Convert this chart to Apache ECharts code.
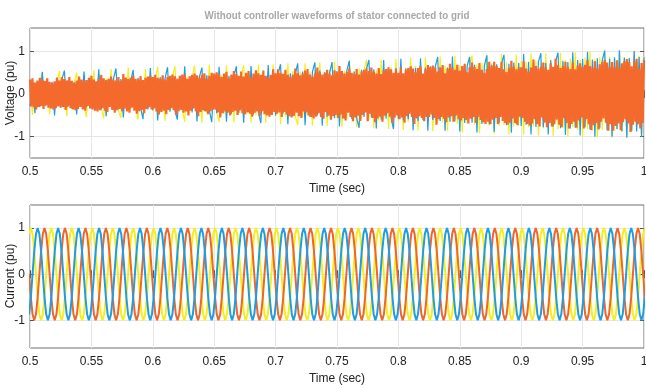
<!DOCTYPE html>
<html>
<head>
<meta charset="utf-8">
<script src="https://cdn.jsdelivr.net/npm/echarts@6/dist/echarts.min.js"></script>
<style>html,body{margin:0;padding:0;background:#fff}#c{width:646px;height:389px}</style>
</head>
<body>
<div id="c"></div>
<script>
// ---- data ----
const chartTitle = 'Without controller waveforms of stator connected to grid';
const voltageLabel = 'Voltage (pu)';
const currentLabel = 'Current (pu)';
const timeLabel = 'Time (sec)';
const xTicks = [0.5, 0.55, 0.6, 0.65, 0.7, 0.75, 0.8, 0.85, 0.9, 0.95, 1];
const yTicks = [-1, 0, 1];
const timeStart = 0.5;
const orangeStep = 0.001;    // s between orange voltage samples
const voltStep = 0.002;      // s between blue / yellow voltage samples
const currStep = 1 / 720;    // s between current samples (60 Hz, 12 per cycle)

const voltageOrange = [
.34,-.29,.37,-.31,.27,-.36,.32,-.30,.38,-.28,.33,-.35,.31,-.27,.37,-.32,.29,-.34,.26,-.36,.30,-.33,.39,-.29,.32,
-.32,.40,-.30,.35,-.37,.32,-.29,.40,-.33,.31,-.36,.27,-.38,.32,-.35,.41,-.30,.34,-.36,.31,-.39,.33,-.28,.38,-.34,
.43,-.36,.34,-.39,.30,-.41,.35,-.38,.45,-.33,.37,-.39,.33,-.42,.36,-.30,.41,-.37,.34,-.44,.32,-.38,.40,-.35,.31,
-.40,.47,-.34,.39,-.41,.35,-.44,.38,-.32,.43,-.39,.36,-.46,.34,-.40,.42,-.37,.33,-.45,.38,-.35,.41,-.31,.43,-.36,
.40,-.34,.45,-.41,.38,-.48,.35,-.42,.44,-.39,.34,-.47,.40,-.37,.43,-.33,.46,-.38,.42,-.49,.36,-.40,.43,-.37,.46,
-.44,.46,-.41,.36,-.50,.42,-.39,.45,-.34,.48,-.40,.44,-.52,.38,-.42,.45,-.38,.49,-.41,.35,-.47,.43,-.40,.50,-.37,
.48,-.36,.51,-.43,.47,-.55,.40,-.45,.48,-.41,.52,-.44,.37,-.50,.46,-.42,.54,-.39,.47,-.49,.43,-.38,.53,-.45,.41,
-.47,.50,-.43,.54,-.46,.39,-.53,.48,-.44,.56,-.41,.49,-.52,.45,-.40,.55,-.47,.43,-.50,.38,-.53,.45,-.49,.58,-.42,
.49,-.46,.58,-.43,.50,-.54,.47,-.42,.57,-.48,.45,-.52,.40,-.55,.46,-.51,.60,-.44,.49,-.52,.44,-.56,.48,-.41,.55,
-.43,.59,-.50,.46,-.54,.41,-.57,.48,-.53,.62,-.45,.51,-.54,.46,-.58,.50,-.42,.57,-.51,.48,-.60,.44,-.52,.56,-.49,
.51,-.56,.66,-.48,.54,-.57,.48,-.62,.52,-.44,.60,-.54,.50,-.64,.47,-.55,.59,-.51,.46,-.63,.53,-.49,.57,-.43,.60,
-.64,.54,-.46,.62,-.56,.52,-.66,.48,-.57,.61,-.53,.47,-.65,.55,-.51,.59,-.45,.63,-.53,.58,-.68,.50,-.55,.59,-.50,
.50,-.59,.63,-.55,.49,-.67,.57,-.52,.61,-.46,.65,-.54,.60,-.70,.51,-.57,.61,-.52,.66,-.56,.48,-.64,.58,-.54,.68,
-.54,.63,-.48,.67,-.56,.62,-.72,.53,-.59,.63,-.54,.68,-.58,.49,-.66,.60,-.55,.71,-.52,.61,-.65,.57,-.50,.69,-.59,
.55,-.62,.66,-.56,.71,-.61,.51,-.69,.63,-.58,.74,-.54,.64,-.68,.59,-.53,.73,-.61,.57,-.66,.50,-.70,.59,-.65,.76,
-.71,.65,-.60,.76,-.56,.66,-.70,.61,-.54,.75,-.63,.58,-.68,.52,-.72,.61,-.67,.78,-.57,.64,-.68,.58,-.73,.63,-.53,
.63,-.56,.77,-.65,.60,-.70,.53,-.74,.62,-.69,.81,-.59,.66,-.70,.60,-.76,.64,-.55,.74,-.67,.62,-.78,.57,-.68,.72,
-.76,.64,-.71,.83,-.60,.68,-.72,.61,-.78,.66,-.56,.76,-.68,.63,-.81,.59,-.70,.74,-.65,.58,-.79,.67,-.62,.72,-.55,
.64,-.81,.69,-.59,.79,-.71,.66,-.84,.62,-.73,.77,-.68,.60,-.83,.70,-.65,.75,-.57,.80,-.67,.74,-.86,.63,-.71,.75,
-.86,.63,-.75,.79,-.69,.62,-.85,.72,-.66,.77,-.59,.82,-.69,.75,-.89,.65,-.72,.77,-.65,.83,-.71,.60,-.81,.73,-.68,
.80];
const voltageBlue = [
-.28,.30,-.45,.25,-.31,.52,-.27,.33,-.24,.29,-.50,.31,-.26,.35,.55,-.30,.28,-.33,.27,-.48,.30,-.25,.53,-.31,.29,
-.34,.31,-.29,.58,-.36,.30,-.52,.33,-.28,.36,.60,-.31,.35,-.55,.32,-.37,.29,.57,-.33,.38,-.30,-.59,.34,-.36,.61,
-.38,.35,-.62,.40,-.33,.37,.63,-.41,.36,-.39,-.60,.42,-.35,.65,-.40,.38,-.43,.36,-.64,.41,.62,-.39,.44,-.37,-.66,
.42,-.45,.64,-.40,.44,-.65,.43,-.46,.41,.65,-.44,.47,-.67,.45,-.42,.66,-.48,.46,-.43,-.68,.49,-.45,.68,-.47,.44,
-.50,.48,.70,-.46,.51,-.71,.49,-.52,.47,.72,-.50,.53,-.73,.48,-.54,.52,.74,-.49,.55,-.74,.51,-.53,.50,.75,-.56,
.54,-.76,.52,-.57,.55,.78,-.58,.53,-.56,-.79,.57,-.54,.59,.80,-.55,.58,-.81,.56,-.60,.80,-.57,.59,-.55,-.82,.61,
-.58,.83,-.62,.60,-.59,.63,-.85,.61,-.64,.84,-.60,.62,-.86,.65,-.61,.64,.87,-.63,.66,-.86,.62,-.65,.88,-.64,.67,
-.88,.65,-.68,.66,.87,-.67,.69,-.90,.68,-.70,.66,.91,-.71,.69,-.89,.70,-.68,.72,.92,-.73,.71,-.91,.74,-.70,.73,
-.75,.94,-.72,.76,-.95,.74,-.77,.75,.96,-.78,.73,-.95,.79,-.76,.77,.97,-.80,.78,-.96,.75,-.81,.98,-.79,.80,-.97,
.82,-.78,.99,-.83,.81,-1.0,.84,-.80,.79,1.02,-.85,.83,-1.0,.86,-.82,1.03,-.87,.85,-1.02,.84,-.86,1.01,-.88,.87,-1.0,
.86];
const voltageYellow = [
.30,-.49,.27,-.32,.26,.51,-.29,.34,-.47,.25,-.33,.30,.54,-.28,.31,-.52,.29,-.35,.27,.50,-.30,.32,-.26,-.54,.33,
-.31,.56,-.35,.29,-.33,-.57,.37,-.30,.59,-.34,.32,-.38,-.56,.35,-.29,.62,-.36,.33,-.31,-.60,.38,-.35,.58,-.32,.37,
-.40,.36,.64,-.38,.41,-.63,.35,-.42,.39,.66,-.37,.43,-.36,-.65,.40,-.44,.38,.67,-.41,.42,-.68,.39,-.45,.69,-.40,
.46,-.43,-.66,.44,-.47,.67,-.42,.45,-.66,.48,-.46,.43,.68,-.49,.47,-.67,.44,-.50,.69,-.45,.48,-.68,.51,-.47,.70,
-.52,.49,-.71,.50,-.53,.72,-.48,.54,-.51,-.73,.52,-.55,.72,-.50,.53,-.74,.56,-.52,.74,-.54,.51,-.75,.57,-.53,.76,
-.56,.58,-.77,.54,-.59,.79,-.57,.55,-.78,.60,-.58,.56,.80,-.61,.59,-.80,.57,-.62,.81,-.60,.58,-.82,.63,-.59,.82,
-.64,.61,-.84,.62,-.65,.85,-.63,.66,-.86,.64,-.62,.86,-.67,.65,-.87,.63,-.68,.88,-.66,.67,-.87,.69,-.65,.89,-.70,
.68,-.90,.71,-.69,.67,.91,-.72,.70,-.92,.73,-.71,.91,-.74,.72,-.93,.69,-.75,.94,-.73,.74,-.94,.71,-.76,.93,-.74,
.77,-.95,.75,-.78,.96,-.76,.79,-.97,.74,-.80,.96,-.77,.81,-.98,.78,-.82,.97,-.79,.80,-.99,.83,-.78,.98,-.84,.81,
-.99,.85,-.82,1.0,-.86,.83,-1.01,.87,-.84,1.0,-.85,.88,-1.02,.86,-.83,1.01,-.89,.87,-1.03,.85,-.88,1.02,-.86,.90,-1.0,
.88];

const currentBlue = [
-.87,-.5,0,.5,.87,1,.87,.5,0,-.5,-.87,-1,
-.87,-.5,0,.5,.87,1,.87,.5,0,-.5,-.87,-1,
-.87,-.5,0,.5,.87,1,.87,.5,0,-.5,-.87,-1,
-.87,-.5,0,.5,.87,1,.87,.5,0,-.5,-.87,-1,
-.87,-.5,0,.5,.87,1,.87,.5,0,-.5,-.87,-1,
-.87,-.5,0,.5,.87,1,.87,.5,0,-.5,-.87,-1,
-.87,-.5,0,.5,.87,1,.87,.5,0,-.5,-.87,-1,
-.87,-.5,0,.5,.87,1,.87,.5,0,-.5,-.87,-1,
-.87,-.5,0,.5,.87,1,.87,.5,0,-.5,-.87,-1,
-.87,-.5,0,.5,.87,1,.87,.5,0,-.5,-.87,-1,
-.87,-.5,0,.5,.87,1,.87,.5,0,-.5,-.87,-1,
-.87,-.5,0,.5,.87,1,.87,.5,0,-.5,-.87,-1,
-.87,-.5,0,.5,.87,1,.87,.5,0,-.5,-.87,-1,
-.87,-.5,0,.5,.87,1,.87,.5,0,-.5,-.87,-1,
-.87,-.5,0,.5,.87,1,.87,.5,0,-.5,-.87,-1,
-.87,-.5,0,.5,.87,1,.87,.5,0,-.5,-.87,-1,
-.87,-.5,0,.5,.87,1,.87,.5,0,-.5,-.87,-1,
-.87,-.5,0,.5,.87,1,.87,.5,0,-.5,-.87,-1,
-.87,-.5,0,.5,.87,1,.87,.5,0,-.5,-.87,-1,
-.87,-.5,0,.5,.87,1,.87,.5,0,-.5,-.87,-1,
-.87,-.5,0,.5,.87,1,.87,.5,0,-.5,-.87,-1,
-.87,-.5,0,.5,.87,1,.87,.5,0,-.5,-.87,-1,
-.87,-.5,0,.5,.87,1,.87,.5,0,-.5,-.87,-1,
-.87,-.5,0,.5,.87,1,.87,.5,0,-.5,-.87,-1,
-.87,-.5,0,.5,.87,1,.87,.5,0,-.5,-.87,-1,
-.87,-.5,0,.5,.87,1,.87,.5,0,-.5,-.87,-1,
-.87,-.5,0,.5,.87,1,.87,.5,0,-.5,-.87,-1,
-.87,-.5,0,.5,.87,1,.87,.5,0,-.5,-.87,-1,
-.87,-.5,0,.5,.87,1,.87,.5,0,-.5,-.87,-1,
-.87,-.5,0,.5,.87,1,.87,.5,0,-.5,-.87,-1,
-.87,-.5];
const currentOrange = [
0,-.5,-.87,-1,-.87,-.5,0,.5,.87,1,.87,.5,
0,-.5,-.87,-1,-.87,-.5,0,.5,.87,1,.87,.5,
0,-.5,-.87,-1,-.87,-.5,0,.5,.87,1,.87,.5,
0,-.5,-.87,-1,-.87,-.5,0,.5,.87,1,.87,.5,
0,-.5,-.87,-1,-.87,-.5,0,.5,.87,1,.87,.5,
0,-.5,-.87,-1,-.87,-.5,0,.5,.87,1,.87,.5,
0,-.5,-.87,-1,-.87,-.5,0,.5,.87,1,.87,.5,
0,-.5,-.87,-1,-.87,-.5,0,.5,.87,1,.87,.5,
0,-.5,-.87,-1,-.87,-.5,0,.5,.87,1,.87,.5,
0,-.5,-.87,-1,-.87,-.5,0,.5,.87,1,.87,.5,
0,-.5,-.87,-1,-.87,-.5,0,.5,.87,1,.87,.5,
0,-.5,-.87,-1,-.87,-.5,0,.5,.87,1,.87,.5,
0,-.5,-.87,-1,-.87,-.5,0,.5,.87,1,.87,.5,
0,-.5,-.87,-1,-.87,-.5,0,.5,.87,1,.87,.5,
0,-.5,-.87,-1,-.87,-.5,0,.5,.87,1,.87,.5,
0,-.5,-.87,-1,-.87,-.5,0,.5,.87,1,.87,.5,
0,-.5,-.87,-1,-.87,-.5,0,.5,.87,1,.87,.5,
0,-.5,-.87,-1,-.87,-.5,0,.5,.87,1,.87,.5,
0,-.5,-.87,-1,-.87,-.5,0,.5,.87,1,.87,.5,
0,-.5,-.87,-1,-.87,-.5,0,.5,.87,1,.87,.5,
0,-.5,-.87,-1,-.87,-.5,0,.5,.87,1,.87,.5,
0,-.5,-.87,-1,-.87,-.5,0,.5,.87,1,.87,.5,
0,-.5,-.87,-1,-.87,-.5,0,.5,.87,1,.87,.5,
0,-.5,-.87,-1,-.87,-.5,0,.5,.87,1,.87,.5,
0,-.5,-.87,-1,-.87,-.5,0,.5,.87,1,.87,.5,
0,-.5,-.87,-1,-.87,-.5,0,.5,.87,1,.87,.5,
0,-.5,-.87,-1,-.87,-.5,0,.5,.87,1,.87,.5,
0,-.5,-.87,-1,-.87,-.5,0,.5,.87,1,.87,.5,
0,-.5,-.87,-1,-.87,-.5,0,.5,.87,1,.87,.5,
0,-.5,-.87,-1,-.87,-.5,0,.5,.87,1,.87,.5,
0,-.5];
const currentYellow = [
.87,1,.87,.5,0,-.5,-.87,-1,-.87,-.5,0,.5,
.87,1,.87,.5,0,-.5,-.87,-1,-.87,-.5,0,.5,
.87,1,.87,.5,0,-.5,-.87,-1,-.87,-.5,0,.5,
.87,1,.87,.5,0,-.5,-.87,-1,-.87,-.5,0,.5,
.87,1,.87,.5,0,-.5,-.87,-1,-.87,-.5,0,.5,
.87,1,.87,.5,0,-.5,-.87,-1,-.87,-.5,0,.5,
.87,1,.87,.5,0,-.5,-.87,-1,-.87,-.5,0,.5,
.87,1,.87,.5,0,-.5,-.87,-1,-.87,-.5,0,.5,
.87,1,.87,.5,0,-.5,-.87,-1,-.87,-.5,0,.5,
.87,1,.87,.5,0,-.5,-.87,-1,-.87,-.5,0,.5,
.87,1,.87,.5,0,-.5,-.87,-1,-.87,-.5,0,.5,
.87,1,.87,.5,0,-.5,-.87,-1,-.87,-.5,0,.5,
.87,1,.87,.5,0,-.5,-.87,-1,-.87,-.5,0,.5,
.87,1,.87,.5,0,-.5,-.87,-1,-.87,-.5,0,.5,
.87,1,.87,.5,0,-.5,-.87,-1,-.87,-.5,0,.5,
.87,1,.87,.5,0,-.5,-.87,-1,-.87,-.5,0,.5,
.87,1,.87,.5,0,-.5,-.87,-1,-.87,-.5,0,.5,
.87,1,.87,.5,0,-.5,-.87,-1,-.87,-.5,0,.5,
.87,1,.87,.5,0,-.5,-.87,-1,-.87,-.5,0,.5,
.87,1,.87,.5,0,-.5,-.87,-1,-.87,-.5,0,.5,
.87,1,.87,.5,0,-.5,-.87,-1,-.87,-.5,0,.5,
.87,1,.87,.5,0,-.5,-.87,-1,-.87,-.5,0,.5,
.87,1,.87,.5,0,-.5,-.87,-1,-.87,-.5,0,.5,
.87,1,.87,.5,0,-.5,-.87,-1,-.87,-.5,0,.5,
.87,1,.87,.5,0,-.5,-.87,-1,-.87,-.5,0,.5,
.87,1,.87,.5,0,-.5,-.87,-1,-.87,-.5,0,.5,
.87,1,.87,.5,0,-.5,-.87,-1,-.87,-.5,0,.5,
.87,1,.87,.5,0,-.5,-.87,-1,-.87,-.5,0,.5,
.87,1,.87,.5,0,-.5,-.87,-1,-.87,-.5,0,.5,
.87,1,.87,.5,0,-.5,-.87,-1,-.87,-.5,0,.5,
.87,1];

// ---- build ----
const FONT = "'Liberation Sans', Arial, sans-serif";
const C_BLUE = '#1f9de3', C_ORANGE = '#f0652a', C_YELLOW = '#f5ee1c';
const pairs = (arr, step, offset) => arr.map((v, i) => [timeStart + (i + offset) * step, v]);

function xAxisDef(gridIndex, top, withName) {
  return {
    type: 'value', gridIndex, position: top ? 'top' : 'bottom',
    min: 0.5, max: 1, interval: 0.05,
    axisLine: { show: false },
    axisTick: { show: true, inside: true, length: 4, lineStyle: { color: '#555' } },
    axisLabel: { show: !top, margin: 8, color: '#222', fontFamily: FONT, fontSize: 12 },
    splitLine: { show: !top, lineStyle: { color: '#e6e6e6', width: 1 } },
    name: withName ? timeLabel : '', nameLocation: 'middle', nameGap: 25,
    nameTextStyle: { color: '#222', fontFamily: FONT, fontSize: 12 }
  };
}
function yAxisDef(gridIndex, right, mn, mx) {
  return {
    type: 'value', gridIndex, position: right ? 'right' : 'left',
    min: mn, max: mx,
    axisLine: { show: false },
    axisTick: { show: true, inside: true, length: 4, lineStyle: { color: '#555' }, customValues: yTicks },
    axisLabel: { show: !right, margin: 5, color: '#222', fontFamily: FONT, fontSize: 12, customValues: yTicks },
    splitLine: { show: !right, lineStyle: { color: '#e6e6e6', width: 1 } }
  };
}
function line(name, data, xi, yi, color, w, z) {
  return { name, type: 'line', data, xAxisIndex: xi, yAxisIndex: yi, showSymbol: false, symbol: 'none',
    lineStyle: { color, width: w }, itemStyle: { color }, z, clip: true, animation: false, silent: true };
}
function vText(text, x, y) {
  return { type: 'text', x, y, rotation: Math.PI / 2, silent: true, z: 10,
    style: { text, fill: '#222', font: "12px 'Liberation Sans', Arial, sans-serif",
      textAlign: 'center', textVerticalAlign: 'middle' } };
}

const chart = echarts.init(document.getElementById('c'), null, { renderer: 'canvas' });
chart.setOption({
  animation: false,
  backgroundColor: '#fff',
  graphic: [
    { type: 'text', x: 337, y: 16, scaleX: 0.89, silent: true,
      style: { text: chartTitle, fill: '#a8a8a8', font: "bold 11px 'Liberation Sans', Arial, sans-serif",
        textAlign: 'center', textVerticalAlign: 'middle' } },
    vText(voltageLabel, 11, 93),
    vText(currentLabel, 11, 276)
  ],
  grid: [
    { left: 30, right: 2, top: 28, height: 130, outerBoundsMode: 'none', containLabel: false,
      show: true, borderColor: '#6e6e6e', borderWidth: 1, backgroundColor: '#fff' },
    { left: 30, right: 2, top: 205, height: 143, outerBoundsMode: 'none', containLabel: false,
      show: true, borderColor: '#6e6e6e', borderWidth: 1, backgroundColor: '#fff' }
  ],
  xAxis: [ xAxisDef(0, false, true), xAxisDef(0, true, false), xAxisDef(1, false, true), xAxisDef(1, true, false) ],
  yAxis: [ yAxisDef(0, false, -1.5, 1.55), yAxisDef(0, true, -1.5, 1.55),
           yAxisDef(1, false, -1.6, 1.5), yAxisDef(1, true, -1.6, 1.5) ],
  series: [
    line('Va', pairs(voltageYellow, voltStep, 0), 0, 0, C_YELLOW, 1.2, 2),
    line('Vb', pairs(voltageBlue, voltStep, 0), 0, 0, C_BLUE, 1.2, 3),
    line('Vc', pairs(voltageOrange, orangeStep, 0), 0, 0, '#f4692c', 2.2, 4),
    line('Ia', pairs(currentYellow, currStep, -0.5), 2, 2, C_YELLOW, 2, 2),
    line('Ib', pairs(currentOrange, currStep, -0.5), 2, 2, C_ORANGE, 2, 3),
    line('Ic', pairs(currentBlue, currStep, -0.5), 2, 2, C_BLUE, 2, 4)
  ]
});
</script>
</body>
</html>
